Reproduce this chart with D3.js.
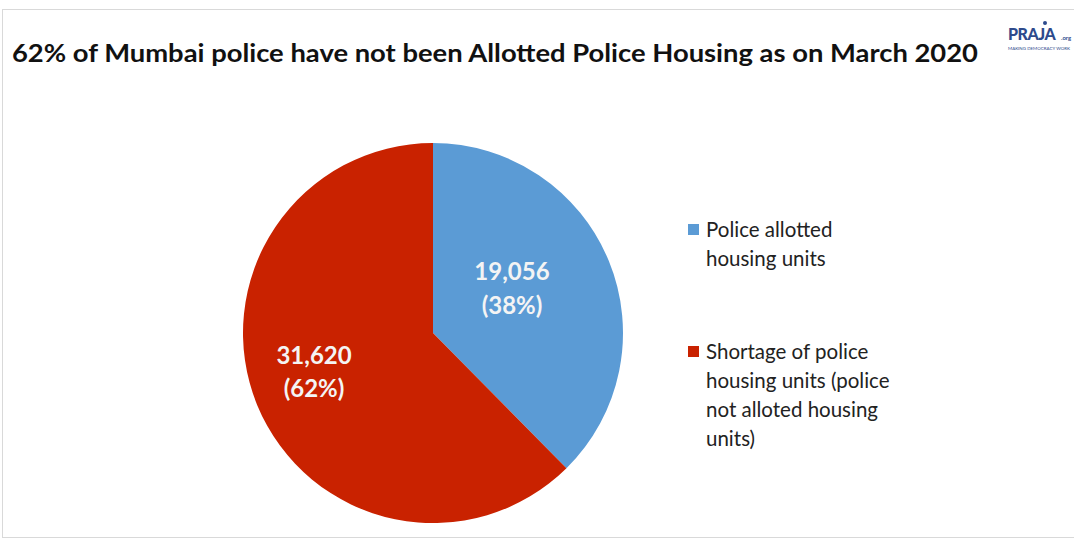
<!DOCTYPE html>
<html><head><meta charset="utf-8">
<script src="https://cdn.jsdelivr.net/npm/d3@7"></script>
<style>body{margin:0;background:#fff}svg{display:block}</style>
</head><body>
<svg id="c" width="1074" height="540"></svg>
<script>
const categories = ["Police allotted housing units", "Shortage of police housing units (police not alloted housing units)"];
const values = [19056, 31620];
const valueLabels = ["19,056", "31,620"];
const pctLabels = ["(38%)", "(62%)"];
const legendLines = [["Police allotted", "housing units"], ["Shortage of police", "housing units (police", "not alloted housing", "units)"]];
const colors = ["#5b9bd5", "#c92200"];
const title = "62% of Mumbai police have not been Allotted Police Housing as on March 2020";

const svg = d3.select("#c");
const font = "Lato, 'Open Sans', sans-serif";
// frame
svg.append("rect").attr("x", 2.5).attr("y", 9.5).attr("width", 1080).attr("height", 528)
  .attr("fill", "#fff").attr("stroke", "#d9d9d9");

svg.append("text").attr("x", 12).attr("y", 62).attr("font-family", font).attr("font-weight", 700)
  .attr("font-size", 24).attr("fill", "#111").attr("textLength", 966).attr("lengthAdjust", "spacingAndGlyphs").text(title);

// logo
const logo = svg.append("g").attr("transform", "translate(1008,0)");
logo.append("text").attr("x", 0).attr("y", 40).attr("font-family", font).attr("font-weight", 900)
  .attr("font-size", 16).attr("letter-spacing", -0.5).attr("fill", "#2e4a8c").text("PRAJA");
logo.append("circle").attr("cx", 37).attr("cy", 23).attr("r", 2).attr("fill", "#2e4a8c");
logo.append("text").attr("x", 53).attr("y", 40).attr("font-family", font).attr("font-weight", 700)
  .attr("font-size", 6).attr("fill", "#2e4a8c").text(".org");
logo.append("text").attr("x", 0).attr("y", 50).attr("font-family", font)
  .attr("font-size", 4).attr("fill", "#2e4a8c").attr("textLength", 62).attr("lengthAdjust", "spacingAndGlyphs").text("MAKING DEMOCRACY WORK");

const cx = 433, cy = 333, r = 190;
const pie = d3.pie().sort(null).value(d => d)(values);
const arc = d3.arc().innerRadius(0).outerRadius(r);
const g = svg.append("g").attr("transform", `translate(${cx},${cy})`);
g.selectAll("path").data(pie).join("path").attr("d", arc).attr("fill", (d, i) => colors[i]);

const labelArc = d3.arc().innerRadius(r * 0.62).outerRadius(r * 0.62);
const offsets = [[-30, -8, 26], [-10, -14, 19]];
pie.forEach((d, i) => {
  const [x, y] = labelArc.centroid(d);
  const t = g.append("text").attr("text-anchor", "middle").attr("font-family", font).attr("font-weight", 700)
    .attr("font-size", 24).attr("fill", "#f4f4f4");
  t.append("tspan").attr("x", x + offsets[i][0]).attr("y", y + offsets[i][1]).text(valueLabels[i]);
  t.append("tspan").attr("x", x + offsets[i][0]).attr("y", y + offsets[i][2]).text(pctLabels[i]);
});

// legend
const legY = [230, 352];
legendLines.forEach((lines, i) => {
  svg.append("rect").attr("x", 688).attr("y", legY[i] - 6).attr("width", 11).attr("height", 11).attr("fill", colors[i]);
  lines.forEach((ln, j) => {
    svg.append("text").attr("x", 706).attr("y", legY[i] + 7 + j * 29).attr("font-family", font)
      .attr("font-size", 20.5).attr("fill", "#222").text(ln);
  });
});
</script>
</body></html>
